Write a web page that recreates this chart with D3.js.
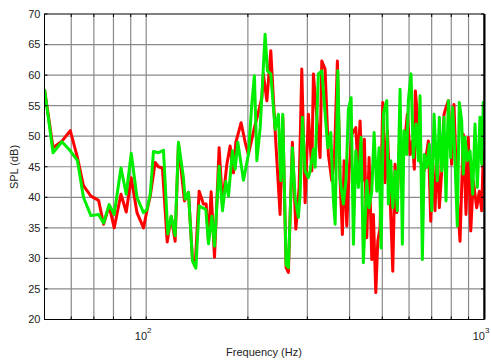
<!DOCTYPE html>
<html>
<head>
<meta charset="utf-8">
<script src="https://cdn.jsdelivr.net/npm/d3@7"></script>
<style>
  body { margin: 0; background: #fff; }
  text { font-family: "Liberation Sans", Arial, sans-serif; fill: #222; }
</style>
</head>
<body>
<svg id="chart" width="491" height="362"></svg>
<script>
// frequency grid (Hz) and level ticks (dB)
var gridFreq = [60, 70, 80, 90, 100, 200, 300, 400, 500, 600, 700, 800, 900];
var decadeTicks = [100, 1000];
var splTicks = [20, 25, 30, 35, 40, 45, 50, 55, 60, 65, 70];

// [frequency Hz, SPL dB]
var red = [
  [50, 57.7], [53, 48.1], [56.3, 49.2], [59.6, 50.9], [62.6, 46.5], [65.2, 41.9], [68.6, 40.2],
  [72.3, 39.5], [74.8, 35.6], [77.7, 38.6], [80.4, 35], [84.2, 40.5], [87.3, 37.6], [90.3, 43.2],
  [93.9, 37.5], [98.2, 35], [100.5, 37.8], [102.8, 40.2], [106.3, 45.7], [108.7, 45], [111.7, 44.8],
  [115.4, 32.7], [118.6, 36.9], [121.8, 32.8], [124.6, 48.7], [129.8, 39.4], [133.4, 40.8],
  [137.1, 29.8], [139.6, 28.7], [143.5, 41], [147.7, 38.9], [150.5, 38.9], [152.9, 32.8],
  [155.7, 40.9], [159.3, 30.2], [164.4, 48.1], [168.2, 38.9], [173.3, 45.4], [177.2, 48.4],
  [181.3, 44], [184.2, 49], [191, 52.2], [196.3, 49], [200.7, 47], [209.1, 51.4], [214.9, 53.9],
  [220, 56.3], [222.3, 60.2], [227.6, 55.8], [233.8, 64], [240.8, 50.9], [249.1, 37.2],
  [253.7, 53.1], [259.5, 28.5], [263.6, 27.7], [270.9, 49], [277.3, 34.8], [283.6, 41.6],
  [288.8, 61], [295.4, 39.1], [302.1, 53.6], [309.2, 44.3], [312.6, 60.2], [327.2, 46.5],
  [331, 62.3], [338.5, 61], [346.2, 47], [354.4, 42.7], [360.7, 46.2], [368.1, 62.3], [375, 42.7],
  [380.9, 33.9], [385.3, 46], [392.5, 35.3], [398.7, 44.3], [406.1, 50.3], [417.3, 51.4],
  [423, 45.4], [429.7, 52.5], [436.4, 42.7], [442.5, 49.5], [449.8, 33.4], [456.9, 46.5],
  [465.4, 29.8], [470.5, 37.2], [478.3, 24.4], [484.8, 32.8], [492.5, 35], [501.6, 55.5],
  [509.5, 42.4], [517.5, 50.9], [527.1, 40.5], [537, 27.9], [545.4, 45.4], [551.7, 37.5],
  [561.6, 48.7], [574.8, 46.5], [583.8, 49.8], [593.1, 53.6], [604, 47], [613.6, 49.2], [622, 44.6],
  [626.2, 57.4], [634.9, 53.6], [646.7, 46], [664.5, 44.3], [684.3, 49.2], [695.6, 36.1],
  [705.2, 45.7], [716.1, 37.8], [727.4, 48.1], [737.5, 38.3], [749.6, 44.3], [761.5, 53.6],
  [771.9, 54.7], [784.1, 55.8], [802.4, 45.4], [815.1, 55.2], [830.2, 41.6], [849.2, 32.8],
  [868.5, 50.3], [884.6, 37.2], [898.7, 49.8], [913.5, 34.5], [929.7, 42.7], [951.5, 38.3],
  [968.5, 41], [984.5, 37.8], [995.2, 47.5], [1000, 46]
];

var green = [
  [50, 57.7], [53, 47.3], [56.3, 49.1], [59.6, 47.6], [62.6, 46], [65.2, 40], [68.6, 37],
  [72.3, 37.2], [74.8, 35.8], [77.7, 38.8], [80.4, 37.2], [84.2, 44.8], [87.3, 40.5], [90.3, 47.2],
  [93.9, 40], [98.2, 37.5], [100.5, 38], [102.8, 40.5], [105.1, 47.5], [108.7, 47.3], [112.5, 47.7],
  [115.9, 34], [118.6, 36.9], [121.8, 33.7], [124.6, 49], [128.9, 43.2], [130.4, 39.7], [133.4, 40.8],
  [137.1, 29.6], [140.3, 28.4], [143.5, 38.6], [146.7, 38.3], [150.2, 38], [152.9, 32.4],
  [156.5, 36.9], [159.3, 32], [164.4, 45.1], [168.2, 37.8], [172.1, 42.6], [175.2, 40.2], [180, 47.6],
  [183.4, 44.6], [186.7, 49], [194.1, 42.8], [200.7, 47], [205.4, 55.2], [209.1, 59.9], [212.6, 46],
  [217.5, 51.4], [224.9, 66.7], [228.5, 60.7], [233.8, 60.2], [240.8, 51.1], [246.3, 53.6],
  [250.3, 42.7], [253.7, 53.6], [259.5, 29], [263.6, 28.5], [270.9, 48.1], [276, 39.9], [282.2, 36.7],
  [285.5, 40.5], [290, 53.1], [295.4, 44.3], [302.1, 43.2], [305.6, 44.3], [312.6, 47.9],
  [316.2, 44.9], [323.4, 60.2], [331, 60.7], [344.9, 48.1], [351.9, 50.6], [358.2, 39.7],
  [362.5, 35.6], [369.2, 60.7], [375, 43], [383.5, 38.9], [390.6, 43], [396.8, 54.4], [404.2, 56.3],
  [410.6, 32.3], [417.3, 47.6], [424.8, 41.6], [432.6, 49.8], [439.4, 29.3], [449.8, 42.7],
  [456.9, 38.3], [465.4, 41], [472.8, 50.6], [481.5, 41], [489.1, 48.1], [495.9, 31.7], [503.7, 53.6],
  [506, 54.2], [515.4, 55.8], [521.1, 38.9], [529.7, 46], [537, 38.3], [545.4, 44.3], [554, 37.8],
  [564.3, 57.7], [573.2, 32.3], [579.8, 50.9], [590.6, 47], [597, 55.8], [608.1, 60.2], [617.7, 46.5],
  [629.2, 52], [639.2, 46], [646.7, 56.6], [656.9, 29.8], [665.9, 47], [676.9, 44.9], [689, 48.7],
  [700.4, 37.8], [711.5, 53.6], [727.4, 42.7], [737.5, 53.1], [749.6, 44.3], [761.5, 53.1],
  [771.9, 39.4], [784.1, 55.8], [797, 46.5], [808, 54.7], [820.7, 46], [833.7, 35.3], [845.1, 55.5],
  [859, 52.5], [868.5, 43.8], [878.6, 49.8], [892.6, 46], [909.2, 47.6], [926, 40.5], [940.6, 52],
  [955.5, 41.6], [973.2, 53.1], [984.5, 45.4], [995.2, 55.5], [1000, 54]
];

var plotLeft = 44.5, plotRight = 484, plotTop = 14, plotBottom = 319.5;

var x = d3.scaleLog().domain([50, 1000]).range([plotLeft, plotRight]);
var y = d3.scaleLinear().domain([20, 70]).range([plotBottom, plotTop]);

var svg = d3.select("#chart");

// grid
svg.append("g").selectAll("line").data(gridFreq).enter().append("line")
  .attr("x1", function(d) { return x(d); }).attr("x2", function(d) { return x(d); })
  .attr("y1", plotTop).attr("y2", plotBottom)
  .attr("stroke", "#8a8a8a").attr("stroke-width", 1.2);
svg.append("g").selectAll("line").data(splTicks.slice(1, -1)).enter().append("line")
  .attr("x1", plotLeft).attr("x2", plotRight)
  .attr("y1", function(d) { return y(d); }).attr("y2", function(d) { return y(d); })
  .attr("stroke", "#8a8a8a").attr("stroke-width", 1.2);

// data
svg.append("clipPath").attr("id", "plotClip").append("rect")
  .attr("x", plotLeft).attr("y", plotTop)
  .attr("width", plotRight - plotLeft).attr("height", plotBottom - plotTop);

var line = d3.line()
  .x(function(d) { return x(d[0]); })
  .y(function(d) { return y(d[1]); });

var plot = svg.append("g").attr("clip-path", "url(#plotClip)");
plot.append("path").datum(red).attr("d", line)
  .attr("fill", "none").attr("stroke", "#ff0000").attr("stroke-width", 3).attr("stroke-linejoin", "round");
plot.append("path").datum(green).attr("d", line)
  .attr("fill", "none").attr("stroke", "#00ee00").attr("stroke-width", 3).attr("stroke-linejoin", "round");

// inner ticks
var tk = svg.append("g").attr("stroke", "#000").attr("stroke-width", 1);
gridFreq.forEach(function(f) {
  tk.append("line").attr("x1", x(f)).attr("x2", x(f)).attr("y1", plotBottom).attr("y2", plotBottom - 3);
  tk.append("line").attr("x1", x(f)).attr("x2", x(f)).attr("y1", plotTop).attr("y2", plotTop + 3);
});
splTicks.forEach(function(v) {
  tk.append("line").attr("x1", plotLeft).attr("x2", plotLeft + 3).attr("y1", y(v)).attr("y2", y(v));
  tk.append("line").attr("x1", plotRight).attr("x2", plotRight - 3).attr("y1", y(v)).attr("y2", y(v));
});

// box
svg.append("rect").attr("x", plotLeft).attr("y", plotTop)
  .attr("width", plotRight - plotLeft).attr("height", plotBottom - plotTop)
  .attr("fill", "none").attr("stroke", "#000").attr("stroke-width", 1);
svg.append("line").attr("x1", plotRight + 0.5).attr("x2", plotRight + 0.5)
  .attr("y1", plotTop).attr("y2", plotBottom)
  .attr("stroke", "#000").attr("stroke-width", 2);

// y labels
svg.append("g").selectAll("text").data(splTicks).enter().append("text")
  .attr("x", plotLeft - 4).attr("y", function(d) { return y(d); })
  .attr("dy", "0.35em").attr("text-anchor", "end").attr("font-size", 11)
  .text(function(d) { return d; });

// x labels 10^n
decadeTicks.forEach(function(f) {
  var t = svg.append("text").attr("x", x(f) - 3).attr("y", 340)
    .attr("text-anchor", "middle").attr("font-size", 11);
  t.append("tspan").text("10");
  t.append("tspan").attr("dy", -7).attr("font-size", 8).text(String(Math.round(Math.log10(f))));
});

svg.append("text").attr("x", 264).attr("y", 356).attr("text-anchor", "middle")
  .attr("font-size", 11).text("Frequency (Hz)");
svg.append("text").attr("transform", "translate(18,167) rotate(-90)")
  .attr("text-anchor", "middle").attr("font-size", 11).text("SPL (dB)");
</script>
</body>
</html>
